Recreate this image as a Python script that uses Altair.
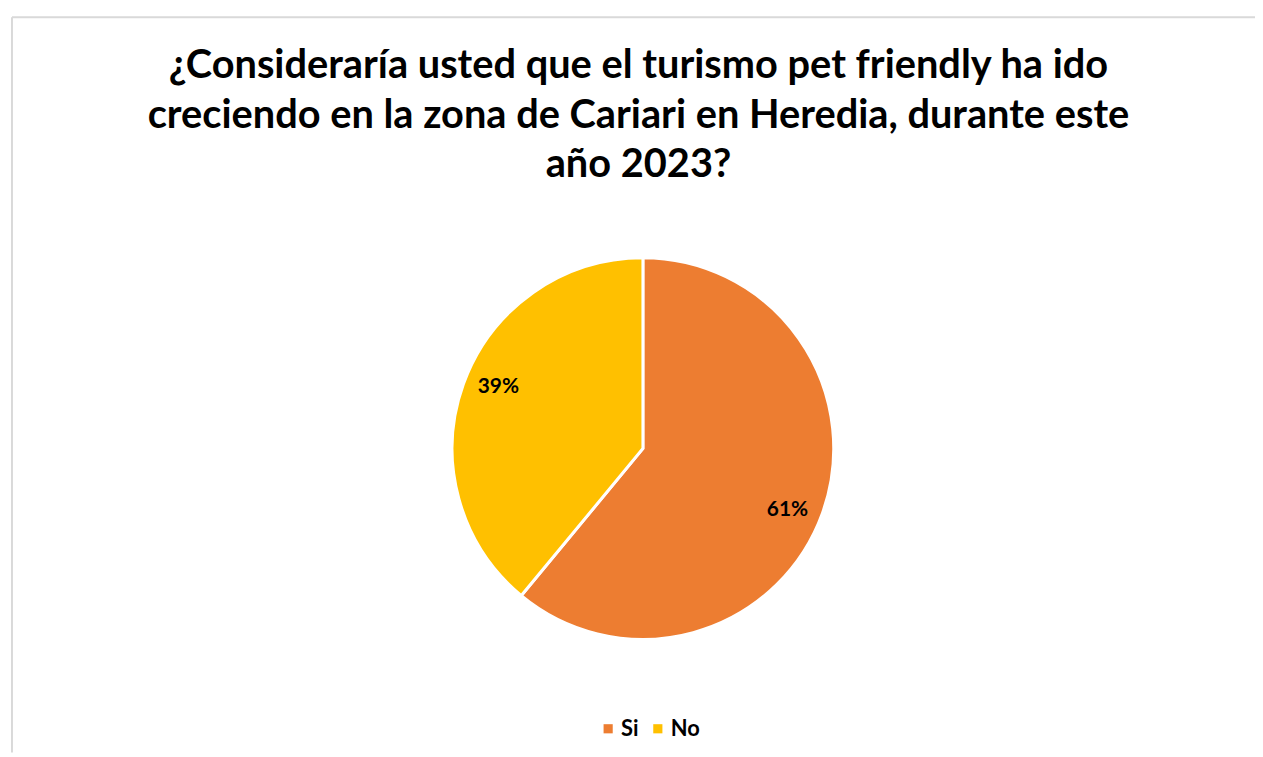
import altair as alt
import pandas as pd

categories = ["Si", "No"]
values = [61, 39]
labels = ["61%", "39%"]
order_idx = [0, 1]
colors = ["#ED7D31", "#FFC000"]
title_lines = [
    "¿Consideraría usted que el turismo pet friendly ha ido",
    "creciendo en la zona de Cariari en Heredia, durante este",
    "año 2023?",
]

df = pd.DataFrame({"cat": categories, "val": values, "label": labels, "idx": order_idx})

W, H = 1251, 740
CX, CY = 635, 434
R = 192
FONT = "Lato"

base = alt.Chart(df).encode(
    theta=alt.Theta("val:Q", stack=True),
    order=alt.Order("idx:Q"),
)

pie = base.mark_arc(outerRadius=R, stroke="white", strokeWidth=3).encode(
    color=alt.Color(
        "cat:N",
        scale=alt.Scale(domain=categories, range=colors),
        sort=categories,
        legend=alt.Legend(
            orient="none",
            legendX=589,
            legendY=705,
            direction="horizontal",
            title=None,
            symbolType="square",
            symbolSize=85,
            symbolStrokeWidth=0,
            symbolOpacity=1,
            labelFont=FONT,
            labelFontSize=22,
            labelFontWeight="bold",
            labelColor="black",
            labelOffset=2,
            columnPadding=8,
            padding=0,
        ),
    ),
    x=alt.value(CX),
    y=alt.value(CY),
)

text = base.mark_text(
    radius=158, thetaOffset=0.055, font=FONT, fontSize=21, fontWeight="bold", color="black"
).encode(text="label:N", x=alt.value(CX), y=alt.value(CY))

frame_df = pd.DataFrame({"a": [0]})
top_rule = alt.Chart(frame_df).mark_rule(color="#D9D9D9", strokeWidth=2).encode(
    x=alt.value(0), x2=alt.value(W), y=alt.value(0)
)
left_rule = alt.Chart(frame_df).mark_rule(color="#D9D9D9", strokeWidth=2).encode(
    x=alt.value(0), y=alt.value(0), y2=alt.value(H)
)

chart = (
    alt.layer(top_rule, left_rule, pie, text)
    .properties(
        width=W,
        height=H,
        autosize=alt.AutoSizeParams(type="none"),
        padding={"left": 4, "top": 7, "right": 0, "bottom": 0},
        title=alt.TitleParams(
            text=title_lines,
            font=FONT,
            fontSize=40,
            fontWeight="bold",
            color="black",
            lineHeight=50,
            anchor="middle",
            dx=5,
            offset=-170,
        ),
    )
    .configure_view(stroke=None)
)

chart.save("out.html", embed_options={"renderer": "svg", "actions": False})
